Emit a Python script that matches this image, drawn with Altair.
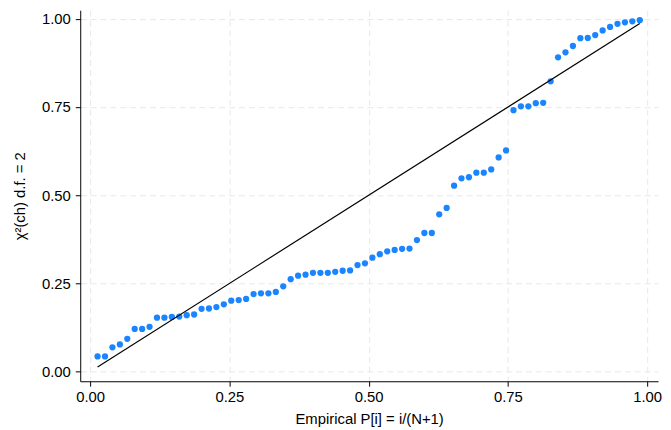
import altair as alt
import pandas as pd

N = 74
chi2_p = [0.043, 0.043, 0.069, 0.077, 0.093, 0.121, 0.121, 0.127, 0.153, 0.153,
          0.155, 0.156, 0.160, 0.162, 0.178, 0.179, 0.183, 0.191, 0.201, 0.203,
          0.206, 0.220, 0.222, 0.222, 0.226, 0.242, 0.262, 0.272, 0.275, 0.280,
          0.280, 0.280, 0.283, 0.286, 0.287, 0.302, 0.307, 0.323, 0.333, 0.341,
          0.345, 0.348, 0.349, 0.373, 0.393, 0.393, 0.446, 0.464, 0.527, 0.548,
          0.551, 0.564, 0.564, 0.573, 0.607, 0.627, 0.741, 0.752, 0.752, 0.761,
          0.762, 0.823, 0.891, 0.905, 0.923, 0.945, 0.946, 0.954, 0.967, 0.977,
          0.986, 0.990, 0.993, 0.996]
empirical_p = [i / (N + 1) for i in range(1, N + 1)]
ref_line_x = [1 / (N + 1), N / (N + 1)]
ref_line_y = [1 / (N + 1), N / (N + 1)]
tick_vals = [0, 0.25, 0.5, 0.75, 1.0]

pts = pd.DataFrame({"x": empirical_p, "y": chi2_p})
ref = pd.DataFrame({"x": ref_line_x, "y": ref_line_y})

FONT = "Liberation Sans"
xscale = alt.Scale(domain=[-0.0178, 1.0195], nice=False, zero=False)
yscale = alt.Scale(domain=[-0.0272, 1.0244], nice=False, zero=False)

xaxis = alt.Axis(values=tick_vals, format=".2f", title="Empirical P[i] = i/(N+1)",
                 labelPadding=3, titleY=38, titleBaseline="middle")
yaxis = alt.Axis(values=tick_vals, format=".2f", title="χ²(ch) d.f. = 2",
                 labelPadding=5, titleX=-61, titleBaseline="middle",
                 titleAlign="center", titleAngle=-90)

points = alt.Chart(pts).mark_circle(size=40, opacity=1, color="#1a85ff").encode(
    x=alt.X("x:Q", scale=xscale, axis=xaxis),
    y=alt.Y("y:Q", scale=yscale, axis=yaxis),
)
line = alt.Chart(ref).mark_line(color="black", strokeWidth=1.2).encode(
    x=alt.X("x:Q", scale=xscale),
    y=alt.Y("y:Q", scale=yscale),
)

chart = alt.layer(points, line).properties(
    width=584, height=375,
    autosize=alt.AutoSizeParams(type="none"),
    padding={"left": 73, "top": 0, "right": 5, "bottom": 45},
).configure_view(stroke=None).configure_axis(
    domainColor="black", domainWidth=1, tickColor="black", tickSize=5, tickWidth=1,
    labelFont=FONT, labelFontSize=15, labelColor="black",
    titleFont=FONT, titleFontSize=15, titleFontWeight="normal", titleColor="black",
    grid=True, gridColor="#e8e8e8", gridDash=[6, 4], gridWidth=1,
)

chart.save("out.html", embed_options={"renderer": "svg", "actions": False})
